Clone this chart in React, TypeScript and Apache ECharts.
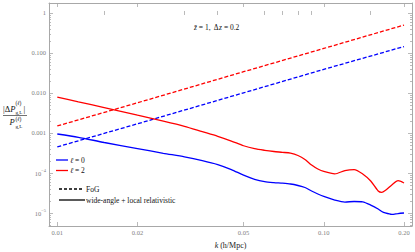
import React, { useEffect, useRef } from 'react';
import * as echarts from 'echarts';

// ---- data ----
const kSolid = [0.01, 0.012, 0.015, 0.02, 0.025, 0.03, 0.035, 0.04, 0.045, 0.05, 0.055, 0.06, 0.065, 0.07, 0.075, 0.08, 0.085, 0.09, 0.095, 0.1, 0.11, 0.12, 0.13, 0.14, 0.15, 0.16, 0.165, 0.17, 0.18, 0.19, 0.2];
const ell0Solid = [0.000944, 0.000781, 0.000579, 0.000407, 0.000311, 0.000254, 0.000205, 0.000163, 0.000122, 0.000088, 0.0000695, 0.0000608, 0.0000575, 0.0000556, 0.0000531, 0.0000487, 0.0000434, 0.0000355, 0.0000299, 0.0000259, 0.0000211, 0.0000188, 0.0000194, 0.000019, 0.0000158, 0.0000126, 0.0000109, 0.00001, 0.0000092, 0.0000097, 0.00001];
const ell2Solid = [0.0079, 0.006, 0.00432, 0.00278, 0.00198, 0.00147, 0.00108, 0.000827, 0.00063, 0.00048, 0.000405, 0.000369, 0.000345, 0.000329, 0.000313, 0.000274, 0.000218, 0.000158, 0.000126, 0.000109, 0.000095, 0.000115, 0.000122, 0.0000944, 0.000063, 0.0000355, 0.0000329, 0.0000365, 0.0000501, 0.0000642, 0.0000562];
const kDashed = [0.01, 0.02, 0.05, 0.1, 0.2];
const ell0FoG = [0.00045, 0.0017, 0.0101, 0.039, 0.145];
const ell2FoG = [0.0015, 0.0057, 0.034, 0.13, 0.5];

const xMajorTicks = [0.01, 0.02, 0.05, 0.1, 0.2];
const xMajorLabels = ['0.01', '0.02', '0.05', '0.10', '0.20'];
const xMinorTicks = [0.015, 0.03, 0.04, 0.06, 0.07, 0.08, 0.09, 0.15];
const yMajorTicks = [1e-5, 1e-4, 1e-3, 1e-2, 1e-1, 1];
const yMajorLabels = ['{m|10}{e|\u22125}', '{m|10}{e|\u22124}', '0.001', '0.010', '0.100', '1'];
const yMinorMultipliers = [2, 3, 4, 5, 6, 7, 8, 9];
const xRange = [0.009309, 0.2143];
const yRange = [4.73e-6, 1.778];

const L = (v: number) => Math.log10(v);
const SERIF = 'Liberation Serif';
const FRAME = '#a8a8a8';
const TICKTEXT = '#808080';
const BLUE = '#0000ff';
const RED = '#ff0000';

function nearestLabel(v: number, ticks: number[], labels: string[]) {
  let best = 0;
  let bd = Infinity;
  ticks.forEach((t, i) => {
    const d = Math.abs(L(t) - v);
    if (d < bd) { bd = d; best = i; }
  });
  return labels[best];
}

const yMinorTicks: number[] = [];
for (let d = -6; d <= 0; d++) {
  yMinorMultipliers.forEach((m) => {
    const v = m * Math.pow(10, d);
    if (v > yRange[0] && v < yRange[1]) yMinorTicks.push(v);
  });
}

export default function App() {
  const ref = useRef<HTMLDivElement>(null);
  useEffect(() => {
    document.body.style.margin = '0';
    if (!ref.current) return;
    const chart = echarts.init(ref.current, null, { renderer: 'svg' });

    const xBase = (pos: 'bottom' | 'top') => ({
      type: 'value' as const,
      position: pos,
      min: L(xRange[0]),
      max: L(xRange[1]),
      splitLine: { show: false },
      axisLine: { show: false, lineStyle: { color: FRAME, width: 1 } },
      axisLabel: { show: false },
    });
    const yBase = (pos: 'left' | 'right') => ({
      type: 'value' as const,
      position: pos,
      min: L(yRange[0]),
      max: L(yRange[1]),
      splitLine: { show: false },
      axisLine: { show: false, lineStyle: { color: FRAME, width: 1 } },
      axisLabel: { show: false },
    });
    const majorTick = (vals: number[], len: number) => ({
      show: true,
      inside: true,
      length: len,
      customValues: vals.map(L),
      lineStyle: { color: FRAME, width: 0.8 },
    });

    const xAxis = [
      {
        ...xBase('bottom'),
        axisLine: { show: true, onZero: false, lineStyle: { color: FRAME, width: 1 } },
        axisTick: majorTick(xMajorTicks, 4),
        axisLabel: {
          show: true,
          customValues: xMajorTicks.map(L),
          formatter: (v: number) => nearestLabel(v, xMajorTicks, xMajorLabels),
          color: TICKTEXT,
          fontSize: 6.5,
          fontFamily: SERIF,
          margin: 3,
        },
        name: '{i|k} (h/Mpc)',
        nameLocation: 'middle',
        nameGap: 15,
        nameTextStyle: {
          fontFamily: SERIF,
          fontSize: 8,
          color: '#222',
          rich: {
            i: { fontFamily: SERIF, fontSize: 8, fontStyle: 'italic', color: '#222' },
          },
        },
      },
      { ...xBase('bottom'), axisTick: majorTick(xMinorTicks, 2) },
      {
        ...xBase('top'),
        axisLine: { show: true, onZero: false, lineStyle: { color: FRAME, width: 1 } },
        axisTick: majorTick(xMajorTicks, 4),
      },
      { ...xBase('top'), axisTick: majorTick(xMinorTicks, 2) },
    ];
    const yAxis = [
      {
        ...yBase('left'),
        axisLine: { show: true, onZero: false, lineStyle: { color: FRAME, width: 1 } },
        axisTick: majorTick(yMajorTicks, 4),
        axisLabel: {
          show: true,
          customValues: yMajorTicks.map(L),
          formatter: (v: number) => nearestLabel(v, yMajorTicks, yMajorLabels),
          color: TICKTEXT,
          fontSize: 6.5,
          fontFamily: SERIF,
          margin: 3,
          rich: {
            m: { fontSize: 6.5, fontFamily: SERIF, color: TICKTEXT, lineHeight: 9, verticalAlign: 'bottom' },
            e: { fontSize: 4.5, fontFamily: SERIF, color: TICKTEXT, lineHeight: 6, verticalAlign: 'top' },
          },
        },
      },
      { ...yBase('left'), axisTick: majorTick(yMinorTicks, 2) },
      {
        ...yBase('right'),
        axisLine: { show: true, onZero: false, lineStyle: { color: FRAME, width: 1 } },
        axisTick: majorTick(yMajorTicks, 4),
      },
      { ...yBase('right'), axisTick: majorTick(yMinorTicks, 2) },
    ];

    const mk = (ks: number[], vs: number[]) => ks.map((k, i) => [L(k), L(vs[i])]);
    const lineSeries = (name: string, data: number[][], color: string, dashed: boolean) => ({
      name,
      type: 'line',
      xAxisIndex: 0,
      yAxisIndex: 0,
      data,
      showSymbol: false,
      symbol: 'none',
      smooth: dashed ? false : 0.25,
      lineStyle: { color, width: 1.3, type: dashed ? [4, 2] : 'solid' },
    });

    const txt = (x: number, y: number, text: string, size: number, opts: any = {}) => ({
      type: 'text',
      x,
      y,
      style: {
        text,
        fontFamily: SERIF,
        fontSize: size,
        fill: '#111',
        align: opts.align || 'left',
        textAlign: opts.align || 'left',
        verticalAlign: opts.va || 'middle',
        textVerticalAlign: opts.va || 'middle',
        fontStyle: opts.italic ? 'italic' : 'normal',
        rich: {
          i: { fontFamily: SERIF, fontSize: size, fontStyle: 'italic', fill: '#111' },
          r: { fontFamily: SERIF, fontSize: size, fill: '#111' },
        },
      },
    });
    const seg = (x1: number, y1: number, x2: number, y2: number, color: string, dash?: number[]) => ({
      type: 'line',
      shape: { x1, y1, x2, y2 },
      style: { stroke: color, lineWidth: 1.3, lineDash: dash || null },
    });

    const graphic = [
      // y-axis title as a fraction
      txt(3, 109, '{r||\u0394}{i|P}', 8.5),
      txt(15.5, 103, '({i|\u2113})', 5.5),
      txt(15.5, 112, 'g,L', 5),
      txt(23.5, 109, '|', 8.5),
      { type: 'line', shape: { x1: 3, y1: 115.5, x2: 27, y2: 115.5 }, style: { stroke: '#111', lineWidth: 0.6 } },
      txt(9.5, 122, 'P', 8.5, { italic: true }),
      txt(15.5, 118.5, '({i|\u2113})', 5.5),
      txt(15.5, 126, 'g,L', 5),
      // annotation
      txt(194, 27, '{i|z\u0304} = 1,  \u0394{i|z} = 0.2', 7.5),
      // legend
      seg(56, 160, 68, 160, BLUE),
      txt(70, 160, '{i|\u2113} = 0', 7.5),
      seg(56, 170.5, 68, 170.5, RED),
      txt(70, 170.5, '{i|\u2113} = 2', 7.5),
      seg(59, 189, 84, 189, '#000', [3, 2]),
      txt(86, 189, 'FoG', 7.5),
      seg(59, 200, 85, 200, '#000'),
      txt(86, 200, 'wide-angle + local relativistic', 7.5),
    ];

    chart.setOption({
      animation: false,
      backgroundColor: '#ffffff',
      grid: { left: 49, right: 3, top: 3, bottom: 26, containLabel: false, outerBoundsMode: 'none' },
      xAxis,
      yAxis,
      series: [
        lineSeries('\u2113 = 0 FoG', mk(kDashed, ell0FoG), BLUE, true),
        lineSeries('\u2113 = 2 FoG', mk(kDashed, ell2FoG), RED, true),
        lineSeries('\u2113 = 0 wide-angle + local relativistic', mk(kSolid, ell0Solid), BLUE, false),
        lineSeries('\u2113 = 2 wide-angle + local relativistic', mk(kSolid, ell2Solid), RED, false),
      ],
      graphic,
    });
    return () => chart.dispose();
  }, []);
  return <div ref={ref} style={{ width: 415, height: 252 }} />;
}
